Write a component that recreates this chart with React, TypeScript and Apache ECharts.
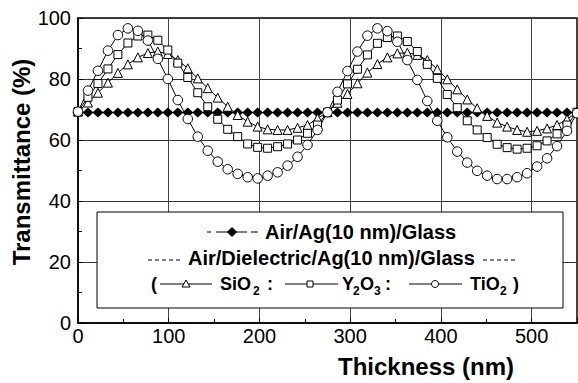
import React, { useEffect, useRef } from "react";
import * as echarts from "echarts";

const thickness = [0, 11, 22, 33, 44, 55, 66, 77, 88, 99, 110, 121, 132, 143, 154, 165, 176, 187, 198, 209, 220, 231, 242, 253, 264, 275, 286, 297, 308, 319, 330, 341, 352, 363, 374, 385, 396, 407, 418, 429, 440, 451, 462, 473, 484, 495, 506, 517, 528, 539, 550];

const agGlass = [69, 69, 69, 69, 69, 69, 69, 69, 69, 69, 69, 69, 69, 69, 69, 69, 69, 69, 69, 69, 69, 69, 69, 69, 69, 69, 69, 69, 69, 69, 69, 69, 69, 69, 69, 69, 69, 69, 69, 69, 69, 69, 69, 69, 69, 69, 69, 69, 69, 69, 69];

const sio2 = [69.3, 72.3, 75.5, 78.8, 82.0, 84.8, 87.1, 88.5, 89.0, 88.2, 86.2, 83.5, 80.2, 77.0, 73.9, 70.9, 68.2, 66.0, 64.4, 63.5, 63.3, 63.3, 64.0, 64.9, 67.1, 69.1, 72.2, 75.1, 78.6, 82.1, 84.9, 87.1, 88.4, 88.6, 87.9, 86.2, 83.2, 79.9, 76.6, 73.3, 70.4, 67.9, 65.7, 64.4, 63.3, 62.7, 63.0, 63.8, 64.9, 66.8, 69.1];

const y2o3 = [69.3, 74.0, 78.5, 83.3, 88.0, 91.8, 94.1, 94.4, 92.7, 89.5, 85.2, 80.5, 75.5, 70.9, 66.8, 63.5, 61.1, 58.7, 57.6, 57.3, 57.8, 58.7, 60.0, 62.2, 64.9, 69.1, 73.1, 78.4, 83.2, 87.9, 91.7, 93.6, 94.1, 92.3, 89.0, 84.8, 80.2, 74.9, 70.6, 66.3, 63.3, 60.8, 58.6, 57.5, 57.0, 57.3, 58.1, 59.7, 62.0, 64.9, 69.1];

const tio2 = [69.3, 76.2, 82.7, 89.3, 94.4, 96.6, 95.8, 92.6, 86.6, 80.0, 73.1, 66.9, 61.1, 56.5, 52.9, 50.4, 48.9, 47.8, 47.4, 48.3, 49.4, 51.6, 54.5, 58.4, 63.3, 69.1, 75.8, 82.6, 89.0, 94.2, 96.6, 95.7, 92.2, 86.2, 79.7, 72.8, 66.3, 60.9, 56.2, 52.6, 49.9, 48.3, 47.2, 47.2, 47.8, 49.1, 51.3, 54.0, 58.0, 63.0, 68.8];

const xTitle = "Thickness (nm)";
const yTitle = "Transmittance (%)";
const legendLine1 = "Air/Ag(10 nm)/Glass";
const legendLine2 = "Air/Dielectric/Ag(10 nm)/Glass";

const FONT = '"Liberation Sans", Arial, Helvetica, sans-serif';

function pairs(ys: number[]) {
  return ys.map((v, i) => [thickness[i], v]);
}

function txt(x: number, y: number, text: string, size: number, opts: any = {}) {
  return {
    type: "text",
    x,
    y,
    z: 110,
    rotation: opts.rotation || 0,
    style: {
      text,
      fill: "#000",
      font: `${opts.weight || "bold"} ${size}px ${FONT}`,
      textAlign: opts.align || "left",
      textVerticalAlign: "middle",
      align: opts.align || "left",
      verticalAlign: "middle",
    },
  };
}

function seg(x1: number, y1: number, x2: number, y2: number, dash?: number[]) {
  return {
    type: "line",
    z: 110,
    shape: { x1, y1, x2, y2 },
    style: { stroke: "#000", lineWidth: 1, lineDash: dash || null },
  };
}

export default function App() {
  const ref = useRef<HTMLDivElement>(null);
  useEffect(() => {
    if (!ref.current) return;
    const chart = echarts.init(ref.current, undefined, { renderer: "svg" });
    const markerStyle = { color: "#fff", borderColor: "#000", borderWidth: 1 };
    const lineSeries = (name: string, data: number[], symbol: string, size: any, item: any) => ({
      name,
      type: "line",
      data: pairs(data),
      symbol,
      symbolSize: size,
      showSymbol: true,
      clip: false,
      lineStyle: { color: "#000", width: 1 },
      itemStyle: item,
      emphasis: { disabled: true },
    });
    const L1 = 232;
    const L2 = 258;
    const L3 = 284;
    chart.setOption({
      animation: false,
      backgroundColor: "#fff",
      grid: {
        left: 78,
        right: 1,
        top: 18,
        bottom: 60,
        show: true,
        borderColor: "#000",
        borderWidth: 1.5,
        backgroundColor: "transparent",
      },
      xAxis: {
        type: "value",
        min: 0,
        max: 550,
        interval: 100,
        axisLine: { show: true, lineStyle: { color: "#000", width: 1.5 } },
        axisTick: { show: true, inside: true, length: 5, lineStyle: { color: "#000" } },
        minorTick: { show: true, splitNumber: 2, length: 4, lineStyle: { color: "#000" } },
        splitLine: { show: true, lineStyle: { color: "#444", width: 1 } },
        axisLabel: { color: "#000", fontSize: 20, fontFamily: FONT, margin: 3, showMaxLabel: false },
      },
      yAxis: {
        type: "value",
        min: 0,
        max: 100,
        interval: 20,
        axisLine: { show: true, lineStyle: { color: "#000", width: 1.5 } },
        axisTick: { show: true, inside: true, length: 5, lineStyle: { color: "#000" } },
        minorTick: { show: true, splitNumber: 2, length: 4, lineStyle: { color: "#000" } },
        splitLine: { show: true, lineStyle: { color: "#333", width: 1 } },
        axisLabel: { color: "#000", fontSize: 20, fontFamily: FONT, margin: 7 },
      },
      series: [
        lineSeries("Air/Ag(10 nm)/Glass", agGlass, "diamond", [11, 10], { color: "#000" }),
        lineSeries("SiO2", sio2, "triangle", 9, markerStyle),
        lineSeries("Y2O3", y2o3, "rect", 8, markerStyle),
        lineSeries("TiO2", tio2, "circle", 9.5, markerStyle),
      ],
      graphic: [
        txt(338, 366, xTitle, 24),
        txt(21, 162, yTitle, 24, { align: "center", rotation: Math.PI / 2 }),
        {
          type: "rect",
          z: 100,
          shape: { x: 97, y: 212, width: 466, height: 96 },
          style: { fill: "#fff", stroke: "#000", lineWidth: 1 },
        },
        // line 1
        seg(207, L1, 211, L1),
        seg(216, L1, 247, L1),
        seg(251, L1, 258, L1),
        {
          type: "polygon",
          z: 111,
          shape: { points: [[232, L1 - 4.5], [236.5, L1], [232, L1 + 4.5], [227.5, L1]] },
          style: { fill: "#000", stroke: "#000", lineWidth: 1 },
        },
        txt(265, L1, legendLine1, 20),
        // line 2
        seg(148, L2 + 2, 182, L2 + 2, [4, 3]),
        txt(188, L2, legendLine2, 20),
        seg(483, L2 + 2, 518, L2 + 2, [4, 3]),
        // line 3
        txt(151, L3, "(", 18),
        seg(160, L3, 212, L3),
        {
          type: "polygon",
          z: 111,
          shape: { points: [[186, L3 - 4], [190, L3 + 3], [182, L3 + 3]] },
          style: { fill: "#fff", stroke: "#000", lineWidth: 1 },
        },
        txt(220, L3, "SiO", 18),
        txt(253, L3 + 7, "2", 12),
        txt(267, L3, ":", 18),
        seg(285, L3, 338, L3),
        {
          type: "rect",
          z: 111,
          shape: { x: 307, y: L3 - 3, width: 6, height: 6 },
          style: { fill: "#fff", stroke: "#000", lineWidth: 1 },
        },
        txt(342, L3, "Y", 18),
        txt(353, L3 + 7, "2", 12),
        txt(360, L3, "O", 18),
        txt(374, L3 + 7, "3", 12),
        txt(385, L3, ":", 18),
        seg(409, L3, 462, L3),
        {
          type: "circle",
          z: 111,
          shape: { cx: 435, cy: L3, r: 3.5 },
          style: { fill: "#fff", stroke: "#000", lineWidth: 1 },
        },
        txt(470, L3, "TiO", 18),
        txt(500, L3 + 7, "2", 12),
        txt(513, L3, ")", 18),
      ],
    });
    return () => chart.dispose();
  }, []);
  return (
    <div
      ref={ref}
      style={{ position: "absolute", left: 0, top: 0, width: 578, height: 383, background: "#fff" }}
    />
  );
}
